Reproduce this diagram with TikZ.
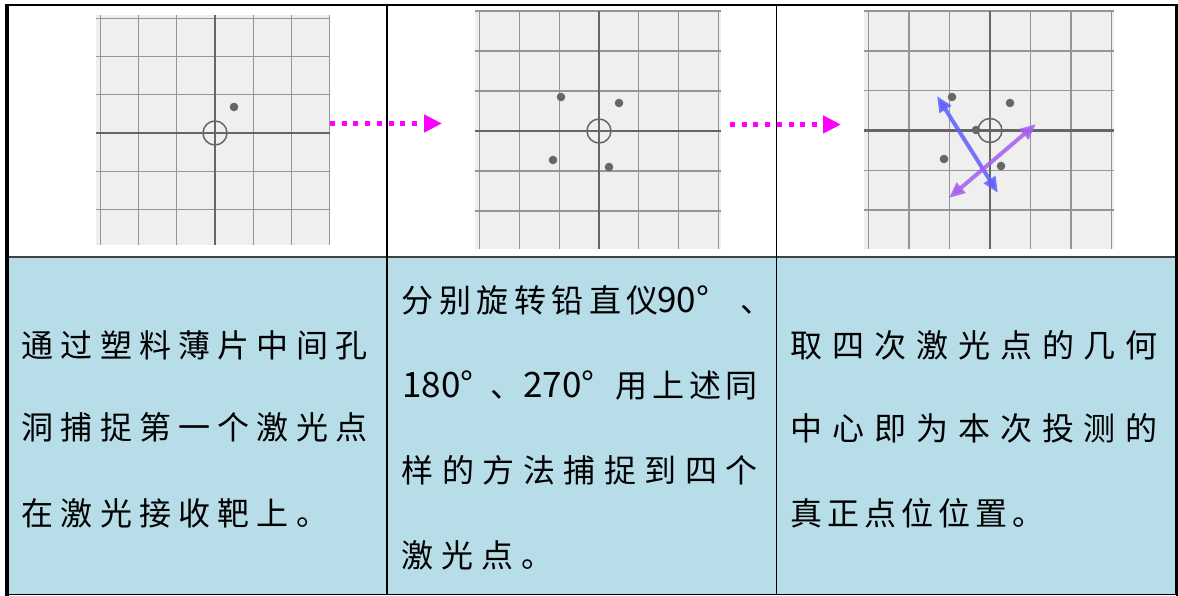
\documentclass[tikz,border=0pt]{standalone}
\usepackage{fontspec}
\newfontfamily\cjk{Noto Sans CJK SC}
\usetikzlibrary{arrows.meta}
\definecolor{gridbg}{HTML}{EFEFEF}
\definecolor{gridln}{HTML}{959595}
\definecolor{axisln}{HTML}{666666}
\definecolor{dotc}{HTML}{666666}
\definecolor{cellblue}{HTML}{B7DDE8}
\definecolor{arrblue}{RGB}{95,95,255}
\definecolor{arrpurple}{RGB}{165,95,240}
\definecolor{laserpink}{RGB}{255,0,255}
\makeatletter
\let\sc@end\relax
\def\spreadchars#1#2{\def\sc@pitch{#1}\sc@loop#2\sc@end}
\def\sc@loop#1{\ifx#1\sc@end\else\makebox[\sc@pitch][l]{#1}\expandafter\sc@loop\fi}
\makeatother
\tikzset{
  txt/.style={inner sep=0pt, anchor=base west, font=\cjk\fontsize{32}{38}\selectfont},
  numtxt/.style={inner sep=0pt, anchor=base west, font=\cjk\fontsize{35}{40}\selectfont},
  gline/.style={draw=gridln, line width=1.3pt},
  aline/.style={draw=axisln, line width=2.2pt},
  spot/.style={fill=dotc},
  hole/.style={draw=axisln, line width=1.5pt},
  laser/.style={draw=laserpink, line width=5pt, dash pattern=on 5pt off 6.7pt, -{Triangle[length=18pt,width=17pt]}},
  dblarrow/.style={line width=4pt, {Triangle[length=16pt,width=13pt]}-{Triangle[length=16pt,width=13pt]}},
}
% #1 name, #2 x0, #3 y0, #4 x1, #5 y1, #6 cx, #7 cy, #8 stepx, #9 stepy
\newcommand\gridpanel[9]{%
  \node[fill=gridbg, inner sep=0pt, minimum width={(#4-#2)*1pt}, minimum height={(#5-#3)*1pt}, anchor=north west] (#1) at (#2,#3) {};
  \begin{scope}
    \clip (#2,#3) rectangle (#4,#5);
    \foreach \k in {-3,...,3} {
      \draw[gline] ({#6+\k*#8},#3) -- ({#6+\k*#8},#5);
      \draw[gline] (#2,{#7+\k*#9}) -- (#4,{#7+\k*#9});
    }
    \draw[aline] (#6,#3) -- (#6,#5);
    \draw[aline] (#2,#7) -- (#4,#7);
  \end{scope}
  \draw[hole] (#6,#7) circle[radius=12pt];
}
\begin{document}
\begin{tikzpicture}[x=1pt,y=-1pt]
\useasboundingbox (0,0) rectangle (1178,596);
\fill[white] (0,0) rectangle (1178,596);
% bottom row background
\fill[cellblue] (7,257) rectangle (1176,594.5);
% panels
\gridpanel{p1}{96}{15}{330}{245}{215}{133}{38.2}{38.2}
\fill[spot] (234,107) circle[radius=4.3pt];
\gridpanel{p2}{475}{11}{721}{249}{599}{131}{39.8}{40}
\fill[spot] (561,97) circle[radius=4.3pt];
\fill[spot] (619,103) circle[radius=4.3pt];
\fill[spot] (553,160) circle[radius=4.3pt];
\fill[spot] (609,167) circle[radius=4.3pt];
\gridpanel{p3}{864}{11}{1114}{249}{990}{130.5}{40.5}{39.8}
\fill[spot] (952,97) circle[radius=4.3pt];
\fill[spot] (1010,103) circle[radius=4.3pt];
\fill[spot] (944,159) circle[radius=4.3pt];
\fill[spot] (1001,166) circle[radius=4.3pt];
\fill[spot] (976,130) circle[radius=4.3pt];
% crossing arrows
\coordinate (b1) at (937,96);
\coordinate (b2) at (998,193);
\coordinate (m1) at (1036,124);
\coordinate (m2) at (949,198);
\draw[dblarrow, draw=arrblue, fill=arrblue, opacity=0.85] (b1) -- (b2);
\draw[dblarrow, draw=arrpurple, fill=arrpurple, opacity=0.85] (m1) -- (m2);
% laser arrows between panels
\coordinate (a1s) at (330,123.5);
\coordinate (a1e) at (442,123.5);
\coordinate (a2s) at (730,124.5);
\coordinate (a2e) at (841,124.5);
\draw[laser] (a1s) -- (a1e);
\draw[laser] (a2s) -- (a2e);
% table lines
\draw[line width=2pt, black!75] (7,257) -- (1176,257);
\draw[line width=1.5pt] (387,5) -- (387,594.5);
\draw[line width=1.5pt] (776.5,5) -- (776.5,594.5);
\draw[line width=1.5pt] (7,5) rectangle (1175.5,594.5);
\draw[line width=4pt] (7,3.8) -- (7,596);
\draw[line width=3pt] (1177,3.8) -- (1177,596);
% column 1 text
\node[txt] (c1a) at (21.5,357) {\spreadchars{39.2pt}{通过塑料薄片中间孔}};
\node[txt] (c1b) at (21.5,439) {\spreadchars{39.2pt}{洞捕捉第一个激光点}};
\node[txt] (c1c) at (21.5,525) {\spreadchars{39.2pt}{在激光接收靶上。}};
% column 2 text
\node[txt] (c2a) at (401.5,312) {\spreadchars{37.5pt}{分别旋转铅直仪}};
\node[numtxt] (c2a2) at (657,312) {90°};
\node[txt] (c2a3) at (740,312) {、};
\node[numtxt] (c2b1) at (402,397) {180°};
\node[txt] (c2b2) at (490,397) {、};
\node[numtxt] (c2b3) at (523,397) {270°};
\node[txt] (c2b4) at (615.5,397) {\spreadchars{36.7pt}{用上述同}};
\node[txt] (c2c) at (401.5,482) {\spreadchars{40.5pt}{样的方法捕捉到四个}};
\node[txt] (c2d) at (401.5,567) {\spreadchars{40pt}{激光点。}};
% column 3 text
\node[txt] (c3a) at (790.5,357) {\spreadchars{41.9pt}{取四次激光点的几何}};
\node[txt] (c3b) at (790.5,440) {\spreadchars{41.9pt}{中心即为本次投测的}};
\node[txt] (c3c) at (790.5,525) {\spreadchars{37pt}{真正点位位置。}};
\end{tikzpicture}
\end{document}
